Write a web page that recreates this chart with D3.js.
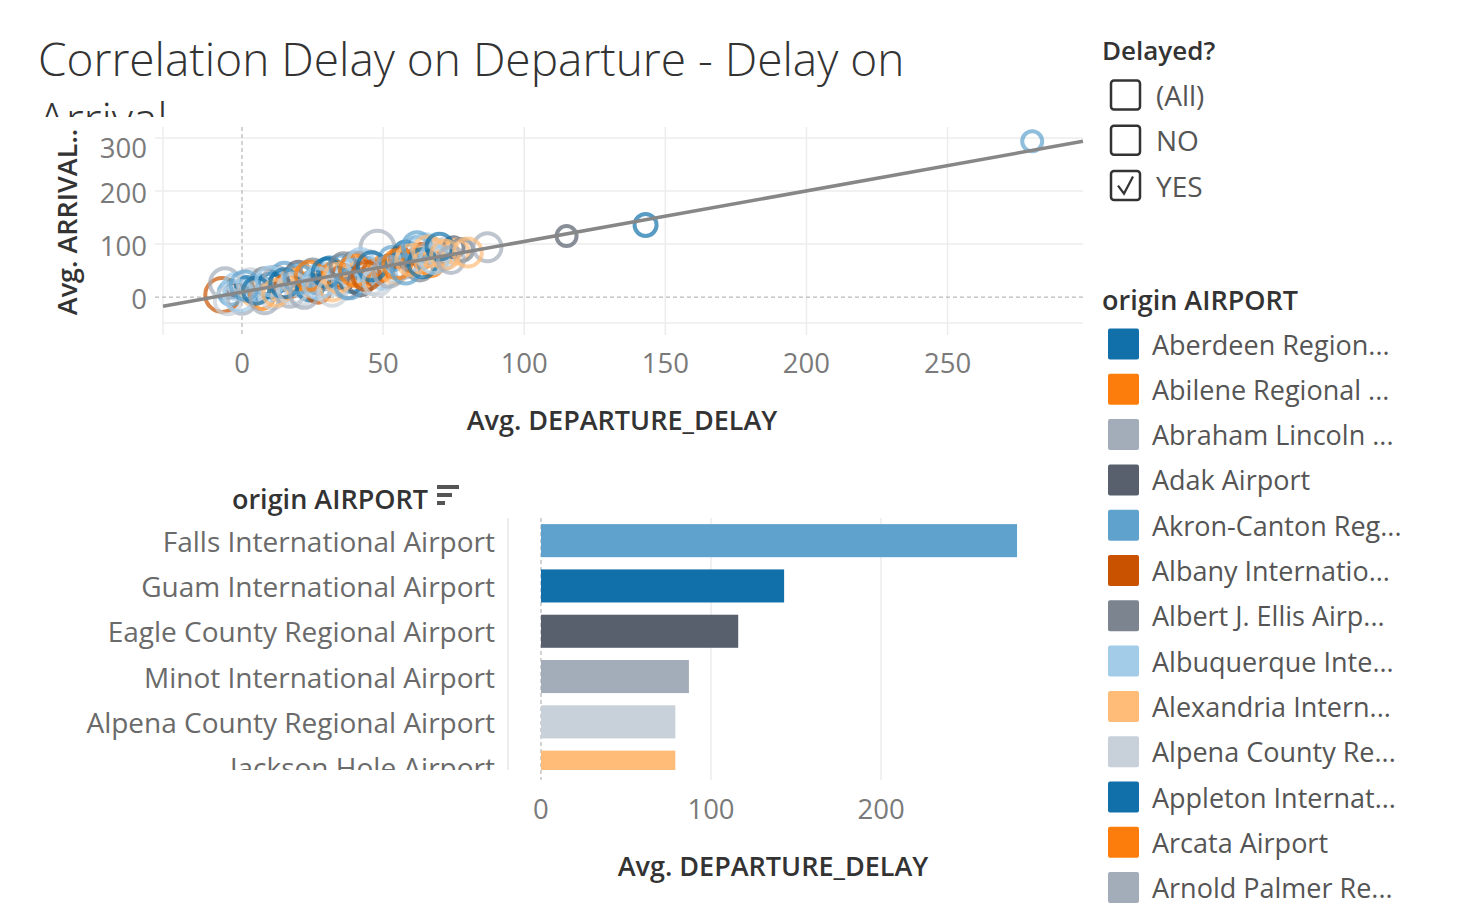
<!DOCTYPE html>
<html><head><meta charset="utf-8">
<script src="https://cdn.jsdelivr.net/npm/d3@7"></script>
<style>
html,body{margin:0;padding:0;background:#fff;}
#wrap{position:relative;width:1472px;height:908px;}
svg{display:block;font-family:"Open Sans",Lato,sans-serif;}
#title{position:absolute;left:38px;top:28px;width:940px;height:89px;overflow:hidden;
  font-family:"Open Sans",Lato,sans-serif;font-weight:300;font-size:46px;line-height:60px;color:#333;}
</style></head>
<body><div id="wrap"><svg id="c" width="1472" height="908"></svg><div id="title"></div></div>
<script>
// ---------- DATA ----------
const titleText = "Correlation Delay on Departure - Delay on Arrival";
const palette = ["#1170aa","#fc7d0b","#a3acb9","#57606c","#5fa2ce","#c85200","#7b848f","#a3cce9","#ffbc79","#c8d0d9"];
const legendAirports = ["Aberdeen Region...","Abilene Regional ...","Abraham Lincoln ...","Adak Airport","Akron-Canton Reg...","Albany Internatio...","Albert J. Ellis Airp...","Albuquerque Inte...","Alexandria Intern...","Alpena County Re...","Appleton Internat...","Arcata Airport","Arnold Palmer Re..."];
const legendColorIdx = [0,1,2,3,4,5,6,7,8,9,0,1,2];
const filterOptions = ["(All)","NO","YES"];
const filterChecked = [false,false,true];

// scatter: average departure delay, average arrival delay, mark size, colour index
const scatterDep = [-7,-6,-3,-4,-2,0,2,3,4,6,7,8,9,10,11,12,13,14,15,16,17,18,19,20,21,22,23,24,25,26,27,28,29,30,31,32,33,34,35,36,37,38,39,40,41,42,43,44,45,46,47,48,49,50,50,52,53,54,56,57,58,60,61,62,63,64,65,66,67,68,70,71,72,75,76,78,87,115,143,280,
  -5,-1,1,5,8,10,12,15,18,20,22,24,27,30,32,34,36,38,40,42,44,46,48,52,55,58,60,62,64,66,68,70,72,74,80];
const scatterArr = [4,26,13,8,20,-5,15,28,5,18,0,30,12,22,3,35,28,14,40,20,6,32,24,44,10,36,28,18,48,30,12,40,22,32,52,16,44,28,56,38,20,48,32,60,42,26,36,52,64,30,46,93,57,40,51,64,72,48,75,60,82,83,66,89,56,78,92,70,62,84,83,74,90,94,86,89,94,115,136,294,
  -8,2,22,12,-4,30,8,26,16,34,6,40,26,46,10,36,58,24,50,66,40,58,30,48,62,52,70,96,64,86,72,95,80,70,84];
const scatterSize = [17,15,7,12,13,14,12,13,11,12,12,13,11,12,13,12,9,12,13,12,13,12,11,12,13,12,9,13,12,12,12,13,11,9,12,12,12,13,12,12,12,12,12,13,12,12,9,12,12,13,12,17,9,13,10,8,12,12,10,13,12,9,12,13,13,12,14,13,12,13,13,12,11,10,12,11,14,10,11,10,
  13,15,14,13,14,14,13,14,15,14,14,14,15,14,14,14,13,14,15,13,14,14,14,15,14,14,15,14,14,15,14,13,14,13,14];
const scatterColor = [5,2,3,4,7,2,0,9,8,4,1,6,7,0,9,2,0,8,4,5,2,1,7,3,9,8,1,0,6,4,5,7,2,3,0,8,1,9,4,5,2,7,0,6,8,3,1,4,2,9,5,2,1,7,1,0,4,8,5,2,0,0,1,4,6,5,7,8,1,2,8,7,9,3,8,6,2,3,0,4,
  9,7,4,0,2,7,8,0,9,4,2,1,7,0,9,8,6,4,1,7,5,0,9,2,1,4,8,4,0,8,7,0,8,2,8];
const trendSlope = 0.955, trendIntercept = 9.4;
const scatterXTicks = [0,50,100,150,200,250];
const scatterYTicks = [0,100,200,300];

// bars
const barAirports = ["Falls International Airport","Guam International Airport","Eagle County Regional Airport","Minot International Airport","Alpena County Regional Airport","Jackson Hole Airport"];
const barValues = [280,143,116,87,79,79];
const barColorIdx = [4,0,3,2,9,8];
const barTicks = [0,100,200];

// ---------- DRAW ----------
d3.select("#title").text(titleText);
const svg = d3.select("#c");
const defs = svg.append("defs");
const TICK = 27.5, LAB = 27, HEAD = 27;

// Scatter scales
const xS = d3.scaleLinear().domain([-28,298]).range([163,1083]);
const yS = d3.scaleLinear().domain([-49,321]).range([323,127]);
const sg = svg.append("g");
sg.selectAll(".vg").data(scatterXTicks.filter(d=>d!==0)).join("line")
  .attr("x1",d=>xS(d)).attr("x2",d=>xS(d)).attr("y1",127).attr("y2",335)
  .attr("stroke","#ececec").attr("stroke-width",1.5);
sg.append("line").attr("x1",xS.range()[0]).attr("x2",xS.range()[0]).attr("y1",127).attr("y2",335).attr("stroke","#ececec").attr("stroke-width",1.5);
sg.selectAll(".hg").data(scatterYTicks.filter(d=>d!==0)).join("line")
  .attr("x1",155).attr("x2",1083).attr("y1",d=>yS(d)).attr("y2",d=>yS(d))
  .attr("stroke","#ececec").attr("stroke-width",1.5);
sg.append("line").attr("x1",163).attr("x2",1083).attr("y1",323).attr("y2",323).attr("stroke","#ececec").attr("stroke-width",1.5);
sg.append("line").attr("x1",xS(0)).attr("x2",xS(0)).attr("y1",127).attr("y2",335)
  .attr("stroke","#bbb").attr("stroke-width",1.3).attr("stroke-dasharray","4,3");
sg.append("line").attr("x1",155).attr("x2",1083).attr("y1",yS(0)).attr("y2",yS(0))
  .attr("stroke","#bbb").attr("stroke-width",1.3).attr("stroke-dasharray","4,3");
const pts = scatterDep.map((d,i)=>({x:d,y:scatterArr[i],r:scatterSize[i],c:palette[scatterColor[i]]}));
sg.selectAll(".pt").data(pts).join("circle")
  .attr("cx",d=>xS(d.x)).attr("cy",d=>yS(d.y)).attr("r",d=>d.r)
  .attr("fill","none").attr("stroke",d=>d.c).attr("stroke-width",4).attr("stroke-opacity",0.7);
const tx = xS.domain();
sg.append("line").attr("x1",xS(tx[0])).attr("y1",yS(trendSlope*tx[0]+trendIntercept))
  .attr("x2",xS(tx[1])).attr("y2",yS(trendSlope*tx[1]+trendIntercept))
  .attr("stroke","#878787").attr("stroke-width",3.5);
sg.selectAll(".xt").data(scatterXTicks).join("text")
  .attr("x",d=>xS(d)).attr("y",362).attr("text-anchor","middle").attr("dominant-baseline","central")
  .attr("font-size",TICK).attr("fill","#7a7a7a").text(d=>d);
sg.selectAll(".yt").data(scatterYTicks).join("text")
  .attr("x",147).attr("y",d=>Math.max(yS(d)+1,147)).attr("text-anchor","end").attr("dominant-baseline","central")
  .attr("font-size",TICK).attr("fill","#7a7a7a").text(d=>d);
sg.append("text").attr("x",622).attr("y",419).attr("text-anchor","middle").attr("dominant-baseline","central")
  .attr("font-size",HEAD).attr("fill","#333").attr("font-weight",600).text("Avg. DEPARTURE_DELAY");
sg.append("text").attr("transform","translate(66,222) rotate(-90)").attr("text-anchor","middle").attr("dominant-baseline","central")
  .attr("font-size",HEAD).attr("fill","#333").attr("font-weight",600).text("Avg. ARRIVAL..");

// Bar chart
const bx = d3.scaleLinear().domain([-19.4,293.5]).range([508,1040]);
const by = d3.scaleBand().domain(barAirports).range([518,518+45.3*barAirports.length]).paddingInner(0.27).paddingOuter(0.135);
defs.append("clipPath").attr("id","barClip").append("rect").attr("x",0).attr("y",518).attr("width",1090).attr("height",252);
const bg = svg.append("g");
bg.selectAll(".bvg").data(barTicks.filter(d=>d!==0)).join("line")
  .attr("x1",d=>bx(d)).attr("x2",d=>bx(d)).attr("y1",518).attr("y2",780)
  .attr("stroke","#ececec").attr("stroke-width",1.5);
bg.append("line").attr("x1",508).attr("x2",508).attr("y1",518).attr("y2",770).attr("stroke","#e6e6e6").attr("stroke-width",1.5);
bg.append("line").attr("x1",bx(0)).attr("x2",bx(0)).attr("y1",518).attr("y2",780)
  .attr("stroke","#bbb").attr("stroke-width",1.3).attr("stroke-dasharray","4,3");
const bars = bg.append("g").attr("clip-path","url(#barClip)");
bars.selectAll("rect").data(barAirports).join("rect")
  .attr("x",bx(0)).attr("y",d=>by(d)).attr("width",(d,i)=>bx(barValues[i])-bx(0)).attr("height",by.bandwidth())
  .attr("fill",(d,i)=>palette[barColorIdx[i]]);
bars.selectAll("text").data(barAirports).join("text")
  .attr("x",495).attr("y",d=>by(d)+by.bandwidth()/2).attr("text-anchor","end").attr("dominant-baseline","central")
  .attr("font-size",28).attr("fill","#6a6a6a").text(d=>d);
bg.selectAll(".bt").data(barTicks).join("text")
  .attr("x",d=>bx(d)).attr("y",808).attr("text-anchor","middle").attr("dominant-baseline","central")
  .attr("font-size",TICK).attr("fill","#7a7a7a").text(d=>d);
bg.append("text").attr("x",773).attr("y",865).attr("text-anchor","middle").attr("dominant-baseline","central")
  .attr("font-size",HEAD).attr("fill","#333").attr("font-weight",600).text("Avg. DEPARTURE_DELAY");
bg.append("text").attr("x",428).attr("y",498).attr("text-anchor","end").attr("dominant-baseline","central")
  .attr("font-size",HEAD).attr("fill","#333").attr("font-weight",600).text("origin AIRPORT");
[[22,487],[15,495],[8,503]].forEach(([w,y])=>bg.append("rect").attr("x",437).attr("y",y-2).attr("width",w).attr("height",4).attr("fill","#555"));

// Filter
const fg = svg.append("g");
fg.append("text").attr("x",1102).attr("y",50).attr("dominant-baseline","central").attr("font-size",26).attr("fill","#333").attr("font-weight",600).text("Delayed?");
filterOptions.forEach((o,i)=>{
  const cy = 95+45.3*i;
  fg.append("rect").attr("x",1111).attr("y",cy-14.5).attr("width",29).attr("height",29).attr("rx",3)
    .attr("fill","#fff").attr("stroke","#333").attr("stroke-width",2.5);
  if(filterChecked[i]) fg.append("path").attr("d",`M1118,${cy}L1124,${cy+8}L1133,${cy-9}`).attr("fill","none").attr("stroke","#333").attr("stroke-width",2.2);
  fg.append("text").attr("x",1156).attr("y",cy).attr("dominant-baseline","central").attr("font-size",28).attr("fill","#555").text(o);
});

// Colour legend
const lg = svg.append("g");
lg.append("text").attr("x",1102).attr("y",299).attr("dominant-baseline","central").attr("font-size",HEAD).attr("fill","#333").attr("font-weight",600).text("origin AIRPORT");
legendAirports.forEach((a,i)=>{
  const cy = 344+45.3*i;
  lg.append("rect").attr("x",1108).attr("y",cy-15.5).attr("width",31).attr("height",31).attr("rx",2).attr("fill",palette[legendColorIdx[i]]);
  lg.append("text").attr("x",1152).attr("y",cy).attr("dominant-baseline","central").attr("font-size",LAB).attr("fill","#555").text(a);
});
</script></body></html>
